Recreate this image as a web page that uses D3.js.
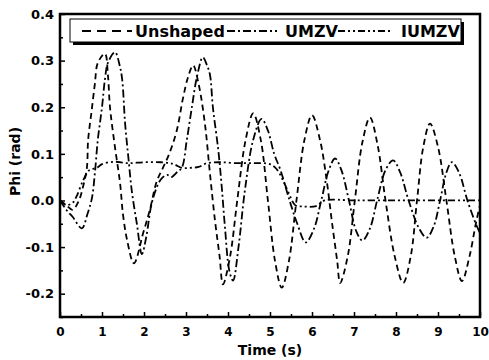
<!DOCTYPE html>
<html>
<head>
<meta charset="utf-8">
<script src="https://cdn.jsdelivr.net/npm/d3@7"></script>
<style>
  body { margin: 0; background: #fff; }
  text { font-family: "DejaVu Sans", sans-serif; font-weight: bold; fill: #000; }
</style>
</head>
<body>
<script>
// Data: [time (s), phi (rad)]
var unshaped = [[0,0],[0.15,-0.01],[0.3,-0.02],[0.45,0.0],[0.55,0.03],[0.64,0.07],[0.67,0.13],[0.75,0.19],[0.83,0.25],[0.9,0.295],[1.07,0.315],[1.14,0.27],[1.19,0.2],[1.3,0.12],[1.43,0.037],[1.5,-0.03],[1.6,-0.086],[1.76,-0.135],[1.98,-0.07],[2.14,-0.02],[2.3,0.04],[2.45,0.07],[2.6,0.1],[2.78,0.15],[2.93,0.22],[3.05,0.265],[3.17,0.29],[3.3,0.25],[3.45,0.165],[3.57,0.058],[3.69,-0.043],[3.8,-0.12],[3.88,-0.18],[4.05,-0.12],[4.22,0.0],[4.42,0.13],[4.6,0.187],[4.78,0.13],[4.95,0.0],[5.12,-0.13],[5.28,-0.187],[5.45,-0.13],[5.63,0.0],[5.82,0.13],[6.0,0.183],[6.19,0.13],[6.35,0.043],[6.47,-0.043],[6.6,-0.13],[6.67,-0.177],[6.85,-0.12],[7.02,0.0],[7.2,0.125],[7.38,0.178],[7.56,0.12],[7.75,0.0],[7.97,-0.12],[8.17,-0.177],[8.35,-0.12],[8.5,0.0],[8.65,0.115],[8.81,0.165],[9.0,0.115],[9.2,0.0],[9.4,-0.12],[9.57,-0.173],[9.75,-0.12],[9.9,-0.05],[10,-0.01]];

var umzv = [[0,0],[0.15,-0.02],[0.3,-0.035],[0.52,-0.06],[0.65,-0.03],[0.76,0.005],[0.83,0.058],[0.9,0.13],[1.0,0.2],[1.07,0.26],[1.14,0.295],[1.31,0.318],[1.42,0.29],[1.48,0.26],[1.55,0.165],[1.63,0.09],[1.71,0.02],[1.83,-0.05],[1.95,-0.115],[2.05,-0.08],[2.2,0.0],[2.4,0.045],[2.55,0.055],[2.65,0.05],[2.8,0.062],[2.9,0.07],[3.02,0.13],[3.14,0.2],[3.26,0.265],[3.4,0.307],[3.5,0.29],[3.57,0.27],[3.64,0.2],[3.77,0.107],[3.85,0.03],[3.93,-0.06],[4.03,-0.15],[4.12,-0.172],[4.25,-0.1],[4.4,0.02],[4.6,0.13],[4.8,0.175],[4.95,0.15],[5.1,0.1],[5.25,0.065],[5.4,0.02],[5.5,-0.01],[5.65,-0.05],[5.85,-0.09],[6.05,-0.06],[6.22,0.0],[6.4,0.065],[6.55,0.09],[6.7,0.065],[6.88,0.0],[7.05,-0.065],[7.2,-0.086],[7.38,-0.06],[7.55,0.0],[7.75,0.065],[7.93,0.086],[8.1,0.06],[8.3,0.0],[8.55,-0.06],[8.73,-0.08],[8.9,-0.055],[9.05,0.0],[9.2,0.06],[9.33,0.082],[9.5,0.06],[9.7,0.0],[9.9,-0.05],[10,-0.07]];

var iumzv = [[0,0],[0.15,-0.01],[0.3,-0.005],[0.4,0.01],[0.55,0.043],[0.7,0.065],[0.88,0.07],[1.0,0.078],[1.3,0.083],[1.6,0.08],[2.0,0.082],[2.4,0.082],[2.7,0.078],[2.9,0.07],[3.1,0.07],[3.3,0.072],[3.5,0.08],[3.8,0.082],[4.2,0.08],[4.6,0.08],[5.0,0.078],[5.15,0.068],[5.3,0.045],[5.45,0.015],[5.6,-0.01],[5.8,-0.013],[6.1,-0.012],[6.3,0.0],[7,0.0],[8,0.0],[9,0.0],[10,0.0]];

var seriesNames = ["Unshaped", "UMZV", "IUMZV"];
var seriesData = [unshaped, umzv, iumzv];
var dashes = ["6,4", "8,3,2,3", "7,3,2,3,2,3"];

var xTicks = [0, 1, 2, 3, 4, 5, 6, 7, 8, 9, 10];
var yTicks = [-0.2, -0.1, 0.0, 0.1, 0.2, 0.3, 0.4];

var width = 489, height = 360;
var margin = { top: 14, right: 9, bottom: 43, left: 60 };
var plot_w = width - margin.left - margin.right;
var plot_h = height - margin.top - margin.bottom;

var svg = d3.select("body")
    .append("svg")
    .attr("width", width)
    .attr("height", height);

var g = svg.append("g")
    .attr("transform", "translate(" + margin.left + "," + margin.top + ")");

var xScale = d3.scaleLinear().domain([0, 10]).range([0, plot_w]);
var yScale = d3.scaleLinear().domain([-0.25, 0.4]).range([plot_h, 0]);

var fmtY = function(d) { return d3.format(".1f")(d).replace("\u2212", "-"); };

// minor ticks (inward)
g.append("g")
    .attr("transform", "translate(0," + plot_h + ")")
    .call(d3.axisBottom(xScale).tickValues(d3.range(0.5, 10, 1)).tickSize(-3).tickFormat(""))
    .call(function(s) { s.select(".domain").remove(); });
g.append("g")
    .call(d3.axisLeft(yScale).tickValues(d3.range(-0.25, 0.4, 0.1)).tickSize(-3).tickFormat(""))
    .call(function(s) { s.select(".domain").remove(); });

// major ticks
var xAxis = g.append("g")
    .attr("transform", "translate(0," + plot_h + ")")
    .call(d3.axisBottom(xScale).tickValues(xTicks).tickSize(-5).tickPadding(10).tickFormat(d3.format("d")));
xAxis.select(".domain").remove();
xAxis.selectAll("text").style("font-size", "12px").attr("dy", "0.71em");

var yAxis = g.append("g")
    .call(d3.axisLeft(yScale).tickValues(yTicks).tickSize(-5).tickPadding(6).tickFormat(fmtY));
yAxis.select(".domain").remove();
yAxis.selectAll("text").style("font-size", "13px");

g.selectAll(".tick line").attr("stroke", "#000").attr("stroke-width", 1.5);

// lines
var line = d3.line()
    .x(function(d) { return xScale(d[0]); })
    .y(function(d) { return yScale(d[1]); })
    .curve(d3.curveCatmullRom.alpha(0.5));

g.selectAll(".series")
    .data(seriesData)
    .enter()
    .append("path")
    .attr("class", "series")
    .attr("d", line)
    .attr("fill", "none")
    .attr("stroke", "#000")
    .attr("stroke-width", 1.8)
    .attr("stroke-dasharray", function(d, i) { return dashes[i]; });

// frame
g.append("rect")
    .attr("width", plot_w)
    .attr("height", plot_h)
    .attr("fill", "none")
    .attr("stroke", "#000")
    .attr("stroke-width", 2.5);

// legend
var leg = g.append("g").attr("transform", "translate(10,5)");
leg.append("rect")
    .attr("x", 3).attr("y", 3)
    .attr("width", 391).attr("height", 23)
    .attr("fill", "#000");
leg.append("rect")
    .attr("width", 391).attr("height", 23)
    .attr("fill", "#fff")
    .attr("stroke", "#000")
    .attr("stroke-width", 1);

var legX = [12, 157, 268];
var legLine = [50, 50, 55];
seriesNames.forEach(function(name, i) {
    leg.append("line")
        .attr("x1", legX[i]).attr("x2", legX[i] + legLine[i])
        .attr("y1", 12).attr("y2", 12)
        .attr("stroke", "#000")
        .attr("stroke-width", 1.8)
        .attr("stroke-dasharray", i === 0 ? "9,6" : dashes[i]);
    leg.append("text")
        .attr("x", legX[i] + legLine[i] + (i === 0 ? 3 : 8))
        .attr("y", 18)
        .style("font-size", "16px")
        .text(name);
});

// axis titles
svg.append("text")
    .attr("x", margin.left + plot_w / 2)
    .attr("y", 355)
    .attr("text-anchor", "middle")
    .style("font-size", "14px")
    .text("Time (s)");

svg.append("text")
    .attr("transform", "translate(20," + (margin.top + plot_h / 2 - 4) + ") rotate(-90)")
    .attr("text-anchor", "middle")
    .style("font-size", "14px")
    .text("Phi (rad)");
</script>
</body>
</html>
